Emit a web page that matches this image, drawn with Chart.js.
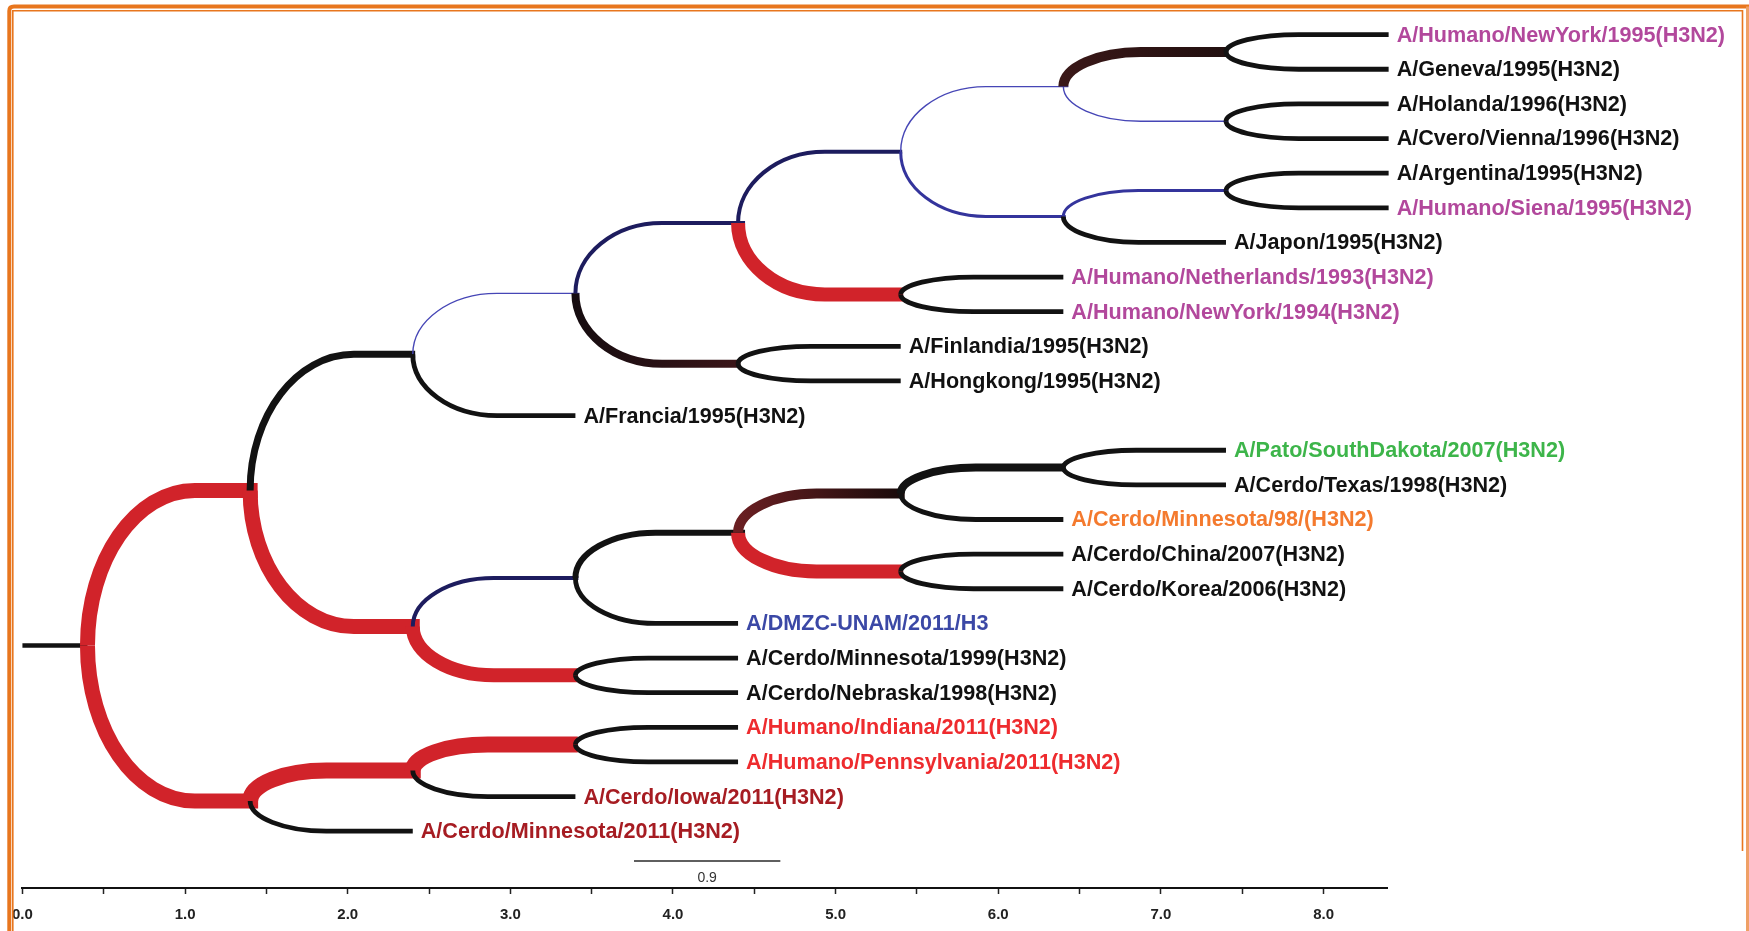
<!DOCTYPE html>
<html>
<head>
<meta charset="utf-8">
<title>Árbol filogenético H3N2</title>
<script src="https://cdn.jsdelivr.net/npm/chart.js@4.4.1/dist/chart.umd.min.js"></script>
<style>
  html, body { margin: 0; padding: 0; background: #fff; overflow: hidden; }
  #wrap { width: 1749px; height: 931px; position: relative; }
</style>
</head>
<body>
<div id="wrap"><canvas id="tree"></canvas></div>
<script>
// ---- Tree data -------------------------------------------------------------
// Terminal taxa, listed top to bottom (row = index)
const taxa = [
  'A/Humano/NewYork/1995(H3N2)',
  'A/Geneva/1995(H3N2)',
  'A/Holanda/1996(H3N2)',
  'A/Cvero/Vienna/1996(H3N2)',
  'A/Argentina/1995(H3N2)',
  'A/Humano/Siena/1995(H3N2)',
  'A/Japon/1995(H3N2)',
  'A/Humano/Netherlands/1993(H3N2)',
  'A/Humano/NewYork/1994(H3N2)',
  'A/Finlandia/1995(H3N2)',
  'A/Hongkong/1995(H3N2)',
  'A/Francia/1995(H3N2)',
  'A/Pato/SouthDakota/2007(H3N2)',
  'A/Cerdo/Texas/1998(H3N2)',
  'A/Cerdo/Minnesota/98/(H3N2)',
  'A/Cerdo/China/2007(H3N2)',
  'A/Cerdo/Korea/2006(H3N2)',
  'A/DMZC-UNAM/2011/H3',
  'A/Cerdo/Minnesota/1999(H3N2)',
  'A/Cerdo/Nebraska/1998(H3N2)',
  'A/Humano/Indiana/2011(H3N2)',
  'A/Humano/Pennsylvania/2011(H3N2)',
  'A/Cerdo/Iowa/2011(H3N2)',
  'A/Cerdo/Minnesota/2011(H3N2)'
];
const taxonParent = ['L','L','M','M','N','N','K','I','I','G','G','C','U','U','S','T','T','P','Q','Q','W','W','V','B'];
const taxonDepth  = [8.4,8.4,8.4,8.4,8.4,8.4,7.4,6.4,6.4,5.4,5.4,3.4,7.4,7.4,6.4,6.4,6.4,4.4,4.4,4.4,4.4,4.4,3.4,2.4];
const taxonGroup  = ['human','other','other','other','other','human','other','human','human','other','other','other',
                     'duck','other','swine98','other','other','dmzc','other','other','human2011','human2011','swine2011','swine2011'];

// Internal nodes
const nodeNames  = ['root','A','B','C','D','V','E','P','Q','W','F','G','R','H','I','S','T','J','K','U','L','M','N'];
const nodeParent = [null,'root','root','A','A','B','C','D','D','V','E','E','P','F','F','R','R','H','H','S','J','J','K'];
const nodeDepth  = [0.4,1.4,1.4,2.4,2.4,2.4,3.4,3.4,3.4,3.4,4.4,4.4,4.4,5.4,5.4,5.4,5.4,6.4,6.4,6.4,7.4,7.4,7.4];
const nodeRow    = [17.64,13.16,22.13,9.23,17.09,21.25,7.47,15.69,18.5,20.5,5.44,9.5,14.38,3.38,7.5,13.25,15.5,1.5,5.25,12.5,0.5,2.5,4.5];

// Distance axis and scale bar
const axisMin = 0, axisMax = 8.39, axisStep = 0.5;
const scaleBar = { from: 3.76, length: 0.9, row: 23.86 };

// ---- Styles ----------------------------------------------------------------
const RED = '#d1232a', NAVY = '#1d1c5e', THIN = '#4646b6', MIDBLUE = '#34349c', INK = '#121212';
const branchStyle = {
  A: [RED, 15], B: [RED, 15], C: [INK, 7], D: [RED, 15], V: [RED, 16],
  E: [THIN, 1.4], P: [NAVY, 4], Q: [RED, 14], W: [RED, 16],
  F: [NAVY, 4], G: [['#160c10', '#3a1518'], 8], R: [INK, 6],
  H: [NAVY, 4], I: [RED, 14], S: [['#6a1f22', '#1a0b0b'], 10], T: [RED, 14],
  J: [THIN, 1.4], K: [MIDBLUE, 3], U: [INK, 8],
  L: [['#3a1818', '#221010'], 10], M: [THIN, 1.4], N: [MIDBLUE, 3]
};
const leafStyle = [INK, 4.8];
const stubStyle = [INK, 4.5];
const labelColor = {
  human: '#b2489c', other: '#111111', duck: '#3db54a', swine98: '#f47a2e',
  dmzc: '#3b48a6', human2011: '#ee2b2e', swine2011: '#a61c22'
};
const LABEL_FONT = "bold 21.6px 'Liberation Sans', Arial, sans-serif";
const AXIS_FONT_FAMILY = "'Liberation Sans Narrow', 'Liberation Sans', Arial, sans-serif";

// ---- Datasets: one per branch ----------------------------------------------
const idx = name => nodeNames.indexOf(name);
const datasets = [];

// root stub
datasets.push({
  data: [{ x: axisMin, y: nodeRow[0] }, { x: nodeDepth[0], y: nodeRow[0] }],
  branchColor: stubStyle[0], branchWidth: stubStyle[1], straight: true, order: 100
});
// internal branches
nodeNames.forEach((n, i) => {
  if (!nodeParent[i]) return;
  const p = idx(nodeParent[i]);
  datasets.push({
    data: [{ x: nodeDepth[p], y: nodeRow[p] }, { x: nodeDepth[i], y: nodeRow[i] }],
    branchColor: branchStyle[n][0], branchWidth: branchStyle[n][1], childNode: n,
    order: 100 - nodeDepth[p] * 10
  });
});
// terminal branches
taxa.forEach((t, r) => {
  const p = idx(taxonParent[r]);
  datasets.push({
    data: [{ x: nodeDepth[p], y: nodeRow[p] }, { x: taxonDepth[r], y: r }],
    branchColor: leafStyle[0], branchWidth: leafStyle[1],
    taxon: t, labelColor: labelColor[taxonGroup[r]],
    order: 100 - nodeDepth[p] * 10 - 1
  });
});
// scale bar
datasets.push({
  type: 'line',
  showLine: true,
  data: [{ x: scaleBar.from, y: scaleBar.row }, { x: scaleBar.from + scaleBar.length, y: scaleBar.row }],
  borderColor: '#2a2a2a', borderWidth: 1.6, pointRadius: 0, scaleBarLabel: scaleBar.length.toFixed(1), order: 0
});

// widest branch leaving each internal node (to close the elbow joint)
const childMaxWidth = {};
nodeNames.forEach((n, i) => {
  const p = nodeParent[i];
  if (p) childMaxWidth[p] = Math.max(childMaxWidth[p] || 0, branchStyle[n][1]);
});
taxonParent.forEach(p => { childMaxWidth[p] = Math.max(childMaxWidth[p] || 0, leafStyle[1]); });

// ---- Plugins -----------------------------------------------------------------
const curvedBranches = {
  id: 'curvedBranches',
  afterDatasetDraw(chart, args) {
    const ds = chart.data.datasets[args.index];
    if (ds.branchColor === undefined) return;
    const pts = args.meta.data;
    const p0 = pts[0], p1 = pts[1];
    const xs = chart.scales.x;
    const unit = xs.getPixelForValue(1) - xs.getPixelForValue(0);
    const ctx = chart.ctx;
    ctx.save();
    let stroke = ds.branchColor;
    if (Array.isArray(stroke)) {
      const g = ctx.createLinearGradient(p0.x, 0, p1.x, 0);
      g.addColorStop(0, stroke[0]);
      g.addColorStop(1, stroke[1]);
      stroke = g;
    }
    ctx.strokeStyle = stroke;
    ctx.lineWidth = ds.branchWidth;
    ctx.lineCap = 'butt';
    ctx.lineJoin = 'round';
    const ext = ds.childNode ? (childMaxWidth[ds.childNode] || 0) / 2 : 0;
    const dy = p1.y - p0.y;
    ctx.beginPath();
    ctx.moveTo(p0.x, p0.y);
    if (ds.straight || Math.abs(dy) < 0.5) {
      ctx.lineTo(p1.x + ext, p1.y);
    } else {
      // quarter-ellipse elbow: leaves the node vertically, arrives horizontally
      const a = unit * Math.min(0.66, 0.42 + 0.0016 * Math.abs(dy));
      const k = 0.5523;
      ctx.bezierCurveTo(p0.x, p0.y + k * dy, p0.x + (1 - k) * a, p1.y, p0.x + a, p1.y);
      ctx.lineTo(p1.x + ext, p1.y);
    }
    ctx.stroke();
    ctx.restore();
  },
  afterDatasetsDraw(chart) {
    const ctx = chart.ctx;
    ctx.save();
    chart.data.datasets.forEach((ds, i) => {
      const meta = chart.getDatasetMeta(i);
      if (ds.taxon) {
        const end = meta.data[1];
        ctx.font = LABEL_FONT;
        ctx.fillStyle = ds.labelColor;
        ctx.textAlign = 'left';
        ctx.textBaseline = 'middle';
        ctx.fillText(ds.taxon, end.x + 8, end.y + 1);
      }
      if (ds.scaleBarLabel) {
        const a = meta.data[0], b = meta.data[1];
        ctx.font = "14px " + AXIS_FONT_FAMILY;
        ctx.fillStyle = '#333';
        ctx.textAlign = 'center';
        ctx.textBaseline = 'middle';
        ctx.fillText(ds.scaleBarLabel, (a.x + b.x) / 2, a.y + 17);
      }
    });
    ctx.restore();
  }
};

const pageFrame = {
  id: 'pageFrame',
  beforeDraw(chart) {
    const ctx = chart.ctx;
    ctx.save();
    ctx.fillStyle = '#ffffff';
    ctx.fillRect(0, 0, chart.width, chart.height);
    ctx.restore();
  },
  afterDraw(chart) {
    const ctx = chart.ctx, W = chart.width, H = chart.height;
    ctx.save();
    ctx.strokeStyle = '#e8761e';
    // outer band
    ctx.lineWidth = 4;
    ctx.beginPath();
    ctx.moveTo(9.3, H);
    ctx.lineTo(9.3, 11);
    ctx.quadraticCurveTo(9.3, 6.6, 14, 6.6);
    ctx.lineTo(W, 6.6);
    ctx.stroke();
    ctx.strokeStyle = '#efa066';
    ctx.lineWidth = 3;
    ctx.beginPath();
    ctx.moveTo(W - 1.5, 6.6);
    ctx.lineTo(W - 1.5, H);
    ctx.stroke();
    // inner rule
    ctx.strokeStyle = '#e8761e';
    ctx.lineWidth = 1.6;
    ctx.beginPath();
    ctx.moveTo(12.8, H);
    ctx.lineTo(12.8, 10.8);
    ctx.lineTo(1742.5, 10.8);
    ctx.lineTo(1742.5, H - 80);
    ctx.stroke();
    ctx.restore();
  }
};

// ---- Chart -------------------------------------------------------------------
new Chart(document.getElementById('tree'), {
  type: 'scatter',
  data: { datasets: datasets.map(d => Object.assign({ showLine: false, pointRadius: 0, pointHoverRadius: 0 }, d)) },
  options: {
    responsive: true,
    maintainAspectRatio: false,
    animation: false,
    devicePixelRatio: 1,
    events: [],
    layout: { padding: { left: 20, right: 362, top: 0, bottom: 0 } },
    plugins: { legend: { display: false }, tooltip: { enabled: false } },
    scales: {
      x: {
        type: 'linear',
        min: axisMin,
        max: axisMax,
        afterFit(scale) { scale.height = 43; },
        ticks: {
          stepSize: axisStep,
          includeBounds: false,
          autoSkip: false,
          maxRotation: 0,
          padding: 12,
          color: '#222',
          font: { family: AXIS_FONT_FAMILY, size: 15, weight: 'bold' },
          callback: v => (Math.abs(v - Math.round(v)) < 1e-9 ? v.toFixed(1) : '')
        },
        grid: { drawOnChartArea: false, drawTicks: true, tickLength: 6, tickColor: '#222', tickWidth: 1.5 },
        border: { display: true, color: '#111', width: 2 }
      },
      y: {
        type: 'linear',
        reverse: true,
        min: -1,
        max: 24.64,
        display: false
      }
    }
  },
  plugins: [curvedBranches, pageFrame]
});
</script>
</body>
</html>
